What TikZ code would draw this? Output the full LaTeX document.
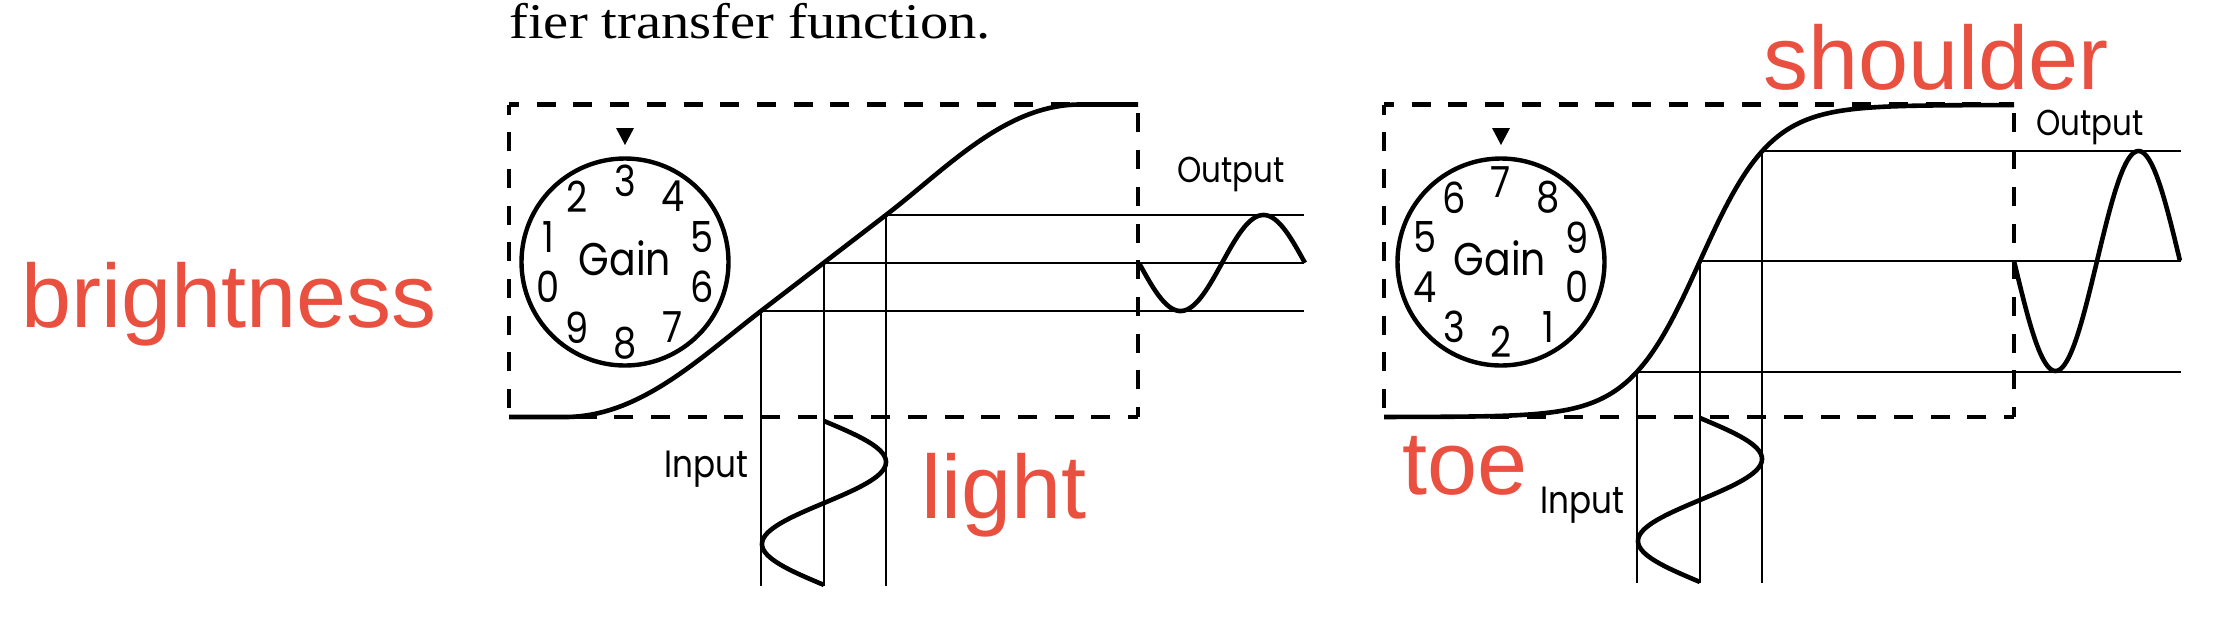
\documentclass[tikz,border=0pt]{standalone}
\usepackage{fontspec}
\newfontfamily\futura[FakeStretch=0.86]{Poppins}
\newfontfamily\helv{Liberation Sans}
\newfontfamily\capfont[FakeStretch=1.13]{Liberation Serif}
\definecolor{annot}{RGB}{233,80,64}
\begin{document}
\begin{tikzpicture}[x=0.5pt,y=-0.5pt,
  curve/.style={line width=2.3pt,line join=round},
  thinline/.style={line width=1pt},
  boxline/.style={line width=2.35pt,dash pattern=on 9.5pt off 8.85pt,dash phase=4.5pt},
  dial/.style={circle,draw,line width=2.2pt,minimum size=103.5pt,inner sep=0pt},
  digit/.style={font=\futura\fontsize{21.4}{21.4}\selectfont,inner sep=0pt},
  gain/.style={font=\futura\fontsize{22.9}{22.9}\selectfont,inner sep=0pt,anchor=base},
  flabel/.style={font=\futura\fontsize{18}{18}\selectfont,inner sep=0pt,anchor=base},
  redlabel/.style={text=annot,font=\helv\fontsize{45}{45}\selectfont,inner sep=0pt,anchor=base}]
\useasboundingbox (0,0) rectangle (2240,628);

% caption fragment
\node[font=\capfont\fontsize{25}{25}\selectfont,anchor=base west,inner sep=0pt] (caption) at (509,38) {fier transfer function.};

% ---------------- left panel ----------------
\coordinate (bTL) at (509,104.5);
\coordinate (bTR) at (1138,104.5);
\coordinate (bBR) at (1138,417);
\coordinate (bBL) at (509,417);
\draw[boxline] (bTL) -- (bTR);
\draw[boxline] (bTL) -- (bBL);
\draw[boxline] (bBR) -- (bBL);
\draw[boxline] (bBR) -- (bTR);

\coordinate (L0) at (509,417);
\coordinate (L1) at (565,417);
\coordinate (La) at (761,311);
\coordinate (Lb) at (824,262.6);
\coordinate (Lc) at (886,215);
\coordinate (L2) at (1080,104.5);
\coordinate (L3) at (1138,104.5);
\coordinate (LxE) at (1304,0);
\coordinate (LyB) at (0,586);

\draw[thinline] (La) -- (La -| LxE);
\draw[thinline] (Lb) -- (Lb -| LxE);
\draw[thinline] (Lc) -- (Lc -| LxE);
\draw[thinline] (La) -- (La |- LyB);
\draw[thinline] (Lb) -- (Lb |- LyB);
\draw[thinline] (Lc) -- (Lc |- LyB);

\draw[curve] (L0) -- (L1) .. controls (640,417) and (700,357.8) .. (La) -- (Lc)
  .. controls (947,168.2) and (1005,104.5) .. (L2) -- (L3);

\draw[curve] plot[domain=0:1,samples=90,smooth] ({824+62*sin(360*\x)},{421+164*\x});
\draw[curve] plot[domain=0:1,samples=90,smooth] ({1139+166*\x},{263+48*sin(360*\x)});

\node[dial] (dialL) at (625,262) {};
\fill (616,128) -- (634,128) -- (625,145) -- cycle;
\node[gain] (gainL) at (625,275) {Gain};
\foreach \d [count=\i from 0] in {3,4,5,6,7,8,9,0,1,2}
  \path (dialL.center) ++({36*\i-90}:81) node[digit] (dl\i) {\d};

\node[flabel] (outL) at (1231,182) {Output};
\node[flabel,font=\futura\fontsize{19}{19}\selectfont] (inL) at (706,477) {Input};

% ---------------- right panel ----------------
\coordinate (cTL) at (1384,104.5);
\coordinate (cTR) at (2014,104.5);
\coordinate (cBR) at (2014,417);
\coordinate (cBL) at (1384,417);
\draw[boxline] (cTL) -- (cTR);
\draw[boxline] (cTL) -- (cBL);
\draw[boxline] (cBR) -- (cBL);
\draw[boxline] (cBR) -- (cTR);

\coordinate (Ra) at (1637,371.7);
\coordinate (Rb) at (1700,261);
\coordinate (Rc) at (1762,151.3);
\coordinate (RxE) at (2181,0);
\coordinate (RyB) at (0,583);

\draw[thinline] (Ra) -- (Ra -| RxE);
\draw[thinline] (Rb) -- (Rb -| RxE);
\draw[thinline] (Rc) -- (Rc -| RxE);
\draw[thinline] (Ra) -- (Ra |- RyB);
\draw[thinline] (Rb) -- (Rb |- RyB);
\draw[thinline] (Rc) -- (Rc |- RyB);

\draw[curve] plot[domain=1384:2014,samples=160,smooth] (\x,{261-156*tanh((\x-1700)/71)});

\draw[curve] plot[domain=0:1,samples=90,smooth] ({1700+62*sin(360*\x)},{418+164*\x});
\draw[curve] plot[domain=0:1,samples=90,smooth] ({2014+166*\x},{261+110*sin(360*\x)});

\node[dial] (dialR) at (1501,262) {};
\fill (1492,128) -- (1510,128) -- (1501,145) -- cycle;
\node[gain] (gainR) at (1500,275) {Gain};
\foreach \d [count=\i from 0] in {7,8,9,0,1,2,3,4,5,6}
  \path (dialR.center) ++({36*\i-90}:80) node[digit] (dr\i) {\d};

\node[flabel] (outR) at (2090,135) {Output};
\node[flabel,font=\futura\fontsize{19}{19}\selectfont] (inR) at (1582,513) {Input};

% ---------------- red annotations ----------------
\node[redlabel] (brightness) at (229,327) {brightness};
\node[redlabel] (light) at (1004,518) {light};
\node[redlabel] (shoulder) at (1936,89) {shoulder};
\node[redlabel] (toe) at (1465,494) {toe};
\end{tikzpicture}
\end{document}
